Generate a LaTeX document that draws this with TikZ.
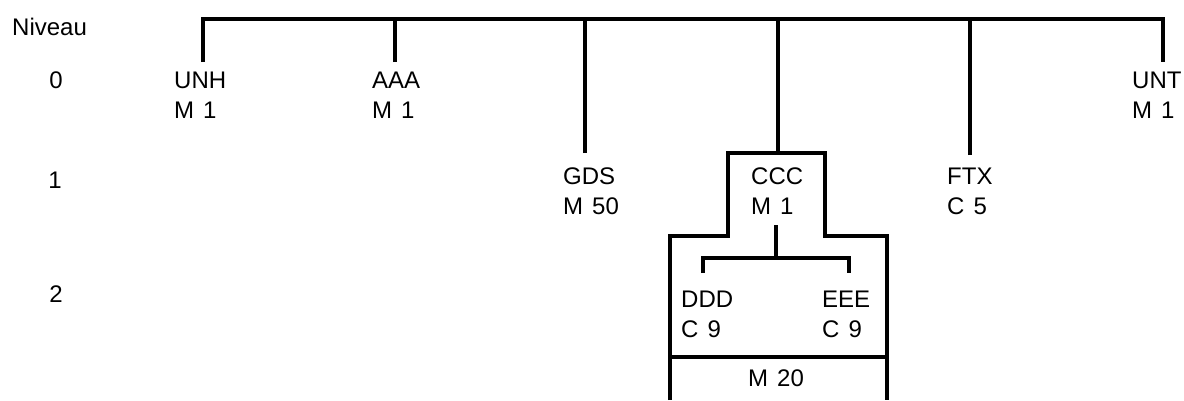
\documentclass[tikz,border=0pt]{standalone}
\usepackage{fontspec}
\setmainfont{Liberation Sans}
\usetikzlibrary{calc}
\tikzset{
 branch/.style={line width=3.2pt},
 frame/.style={line width=3.2pt},
 unit/.style={anchor=base west,inner sep=0,align=left,font=\fontsize{24}{30}\selectfont},
 level/.style={anchor=base,inner sep=0,font=\fontsize{24}{30}\selectfont}
}
\newcommand{\gap}{\hspace{9pt}}

\begin{document}
\begin{tikzpicture}[x=1pt,y=-1pt]
\path[use as bounding box] (0,0) rectangle (1184,400);
% levels
\node[anchor=base west,inner sep=0,font=\fontsize{24}{30}\selectfont] (niveau) at (12,35) {Niveau};
\node[level] (lv0) at (56,88) {0};
\node[level] (lv1) at (55,188) {1};
\node[level] (lv2) at (56,302) {2};
% units (placed at the baseline of their last line)
\node[unit] (unh) at (174,118) {UNH\\M\gap 1};
\node[unit] (aaa) at (372,118) {AAA\\M\gap 1};
\node[unit] (unt) at (1132,118) {UNT\\M\gap 1};
\node[unit] (gds) at (563,214) {GDS\\M\gap 50};
\node[unit] (ccc) at (751,214) {CCC\\M\gap 1};
\node[unit] (ftx) at (947,214) {FTX\\C\gap 5};
\node[unit] (ddd) at (681,337) {DDD\\C\gap 9};
\node[unit] (eee) at (822,337) {EEE\\C\gap 9};
\node[unit] (m20) at (748,386) {M\gap 20};
% drop points
\coordinate (root) at (203,19);
\coordinate (dUNH) at (203,62);
\coordinate (dAAA) at (395,62);
\coordinate (dGDS) at (585,153);
\coordinate (dCCC) at (778,153);
\coordinate (dFTX) at (970,155);
\coordinate (dUNT) at (1163,62);
\draw[branch] (dUNH) |- (root -| dUNT) -- (dUNT);
\foreach \d in {dAAA,dGDS,dCCC,dFTX}
  \draw[branch] (\d) -- (\d |- root);
% group frame
\draw[frame] (670,400) -- (670,236) -- (728,236) -- (728,153) -- (825,153) -- (825,236) -- (887,236) -- (887,400);
\draw[frame] (670,357) -- (887,357);
% sub tree
\coordinate (sub) at (776,225);
\coordinate (dDDD) at (703,273);
\coordinate (dEEE) at (849,273);
\draw[branch] (sub) -- (sub |- 0,258);
\draw[branch] (dDDD) |- (dEEE |- 0,258) -- (dEEE);
\end{tikzpicture}
\end{document}
